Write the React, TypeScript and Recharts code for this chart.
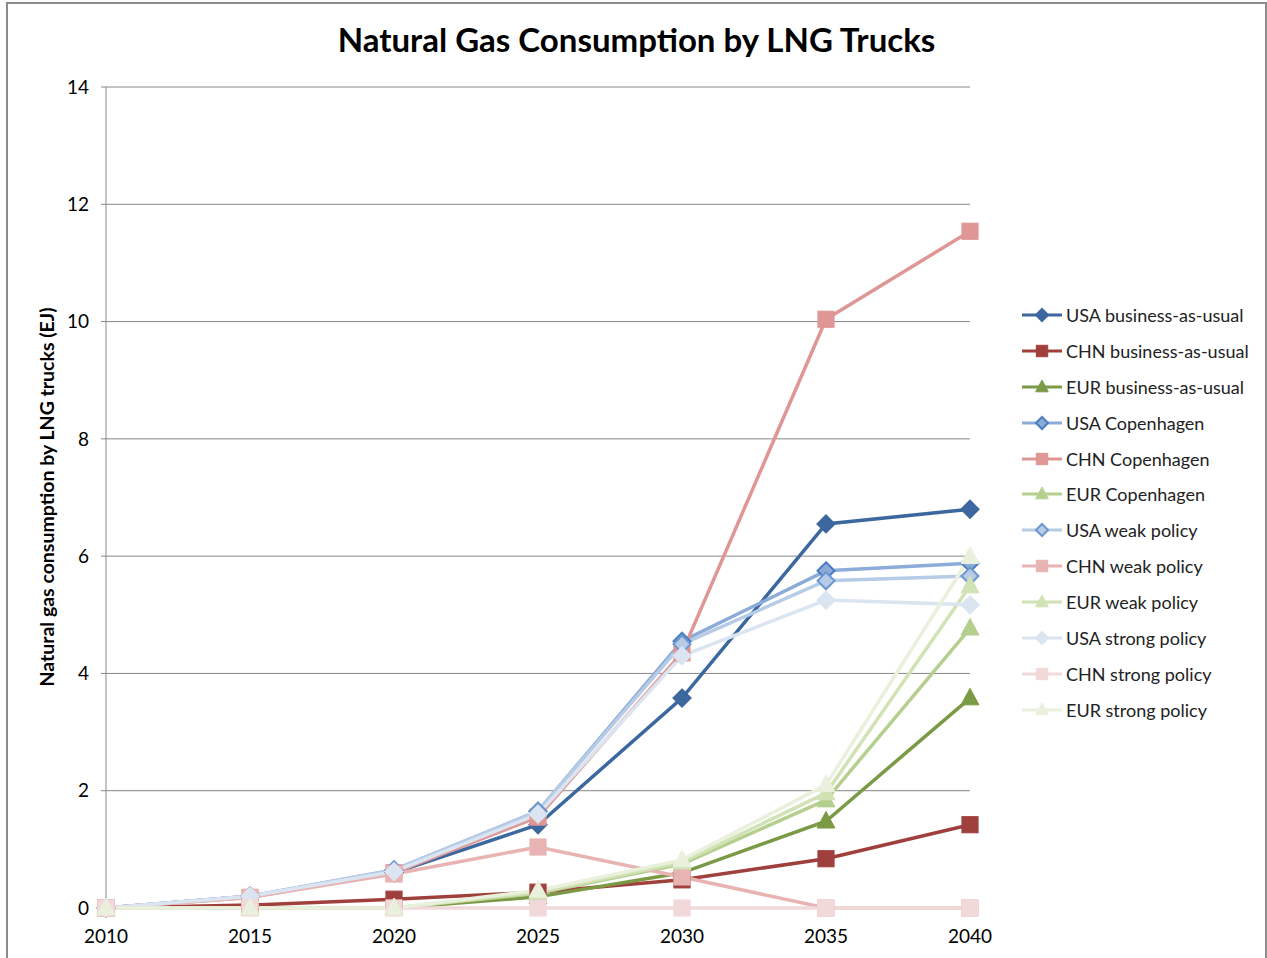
import React from "react";
import { LineChart, Line, XAxis, YAxis, CartesianGrid } from "recharts";

const years = [2010, 2015, 2020, 2025, 2030, 2035, 2040];
const usaBau = [0, 0.2, 0.6, 1.42, 3.58, 6.55, 6.8];
const chnBau = [0, 0.05, 0.15, 0.27, 0.48, 0.84, 1.42];
const eurBau = [0, 0, 0, 0.19, 0.6, 1.48, 3.58];
const usaCop = [0, 0.2, 0.65, 1.65, 4.55, 5.75, 5.88];
const chnCop = [0, 0.18, 0.6, 1.55, 4.35, 10.04, 11.54];
const eurCop = [0, 0, 0, 0.25, 0.75, 1.84, 4.77];
const usaWeak = [0, 0.2, 0.65, 1.65, 4.5, 5.58, 5.66];
const chnWeak = [0, 0.18, 0.58, 1.04, 0.53, 0, 0];
const eurWeak = [0, 0, 0, 0.27, 0.78, 1.96, 5.49];
const usaStrong = [0, 0.2, 0.62, 1.6, 4.3, 5.25, 5.17];
const chnStrong = [0, 0, 0, 0, 0, 0, 0];
const eurStrong = [0, 0, 0, 0.3, 0.82, 2.1, 5.99];
const yTicks = [0, 2, 4, 6, 8, 10, 12, 14];

type Shape = "diamond" | "square" | "triangle";

const series: { key: string; name: string; values: number[]; color: string; shape: Shape; edge?: string }[] = [
  { key: "usaBau", name: "USA business-as-usual", values: usaBau, color: "#3c679f", shape: "diamond" },
  { key: "chnBau", name: "CHN business-as-usual", values: chnBau, color: "#a0403d", shape: "square" },
  { key: "eurBau", name: "EUR business-as-usual", values: eurBau, color: "#7b9a45", shape: "triangle" },
  { key: "usaCop", name: "USA Copenhagen", values: usaCop, color: "#8dabd8", shape: "diamond", edge: "#4a7cc0" },
  { key: "chnCop", name: "CHN Copenhagen", values: chnCop, color: "#de9795", shape: "square" },
  { key: "eurCop", name: "EUR Copenhagen", values: eurCop, color: "#b5cf8e", shape: "triangle" },
  { key: "usaWeak", name: "USA weak policy", values: usaWeak, color: "#b6cbe6", shape: "diamond", edge: "#6d97cf" },
  { key: "chnWeak", name: "CHN weak policy", values: chnWeak, color: "#e7b4b3", shape: "square" },
  { key: "eurWeak", name: "EUR weak policy", values: eurWeak, color: "#d1e2b5", shape: "triangle" },
  { key: "usaStrong", name: "USA strong policy", values: usaStrong, color: "#dbe5f2", shape: "diamond" },
  { key: "chnStrong", name: "CHN strong policy", values: chnStrong, color: "#f2d9d9", shape: "square" },
  { key: "eurStrong", name: "EUR strong policy", values: eurStrong, color: "#e9f0dc", shape: "triangle" },
];

const data = years.map((year, i) => {
  const row: Record<string, number> = { year };
  series.forEach((s) => (row[s.key] = s.values[i]));
  return row;
});

function marker(shape: Shape, cx: number, cy: number, r: number, fill: string, stroke: string, k?: string) {
  if (shape === "diamond") {
    return (
      <polygon key={k} points={`${cx},${cy - r} ${cx + r},${cy} ${cx},${cy + r} ${cx - r},${cy}`} fill={fill} stroke={stroke} strokeWidth={2} />
    );
  }
  if (shape === "square") {
    const h = r * 0.95;
    return <rect key={k} x={cx - h} y={cy - h} width={h * 2} height={h * 2} fill={fill} stroke={stroke} strokeWidth={1} />;
  }
  return (
    <polygon key={k} points={`${cx},${cy - r * 1.15} ${cx + r * 1.05},${cy + r * 0.8} ${cx - r * 1.05},${cy + r * 0.8}`} fill={fill} stroke={stroke} strokeWidth={1} />
  );
}

const font = "Lato, 'Open Sans', sans-serif";

function LegendBox() {
  return (
    <div style={{ fontFamily: font, fontSize: 18, color: "#222" }}>
      {series.map((s) => (
        <div key={s.key} style={{ display: "flex", alignItems: "center", height: 35.9 }}>
          <svg width={44} height={20} style={{ marginRight: 1 }}>
            <line x1={1} y1={10} x2={41} y2={10} stroke={s.color} strokeWidth={3} />
            {marker(s.shape, 21, 10, 6, s.color, s.edge ?? s.color)}
          </svg>
          <span>{s.name}</span>
        </div>
      ))}
    </div>
  );
}

export default function App() {
  return (
    <div style={{ position: "absolute", left: 0, top: 0, width: 1267, height: 958, background: "#fff", overflow: "hidden" }}>
      <div
        style={{
          position: "absolute",
          left: 6,
          top: 2,
          width: 1257,
          height: 970,
          border: "2px solid #8c8c8c",
        }}
      />
      <div
        style={{
          position: "absolute",
          left: 0,
          top: 19,
          width: 1273,
          textAlign: "center",
          fontFamily: font,
          fontWeight: 700,
          fontSize: 33,
          color: "#000",
        }}
      >
        Natural Gas Consumption by LNG Trucks
      </div>
      <div
        style={{
          position: "absolute",
          left: 46,
          top: 497,
          transform: "translate(-50%, -50%) rotate(-90deg)",
          whiteSpace: "nowrap",
          fontFamily: font,
          fontWeight: 700,
          fontSize: 19.5,
          color: "#000",
        }}
      >
        Natural gas consumption by LNG trucks (EJ)
      </div>
      <div style={{ position: "absolute", left: 0, top: 0 }}>
        <LineChart width={1267} height={958} data={data} margin={{ top: 87, right: 297, bottom: 10, left: 46 }}>
          <CartesianGrid horizontal vertical={false} stroke="#868686" />
          <XAxis
            dataKey="year"
            type="number"
            domain={[2010, 2040]}
            ticks={years}
            height={40}
            axisLine={false}
            tickLine={false}
            tickSize={0}
            tickMargin={22}
            tick={{ fontFamily: font, fontSize: 19, fill: "#000" }}
          />
          <YAxis
            type="number"
            domain={[0, 14]}
            ticks={yTicks}
            width={60}
            axisLine={{ stroke: "#868686" }}
            tickLine={{ stroke: "#868686" }}
            tickSize={5}
            tickMargin={12}
            tick={{ fontFamily: font, fontSize: 19, fill: "#000" }}
          />
          {series.map((s) => (
            <Line
              key={s.key}
              dataKey={s.key}
              name={s.name}
              stroke={s.color}
              strokeWidth={3.5}
              isAnimationActive={false}
              dot={(p: any) =>
                p.cx == null ? <g key={`${s.key}-${p.index}`} /> : marker(s.shape, p.cx, p.cy, 8.5, s.color, s.edge ?? s.color, `${s.key}-${p.index}`)
              }
              activeDot={false}
            />
          ))}
        </LineChart>
      </div>
      <div style={{ position: "absolute", left: 1021, top: 297, width: 245 }}>
        <LegendBox />
      </div>
    </div>
  );
}
